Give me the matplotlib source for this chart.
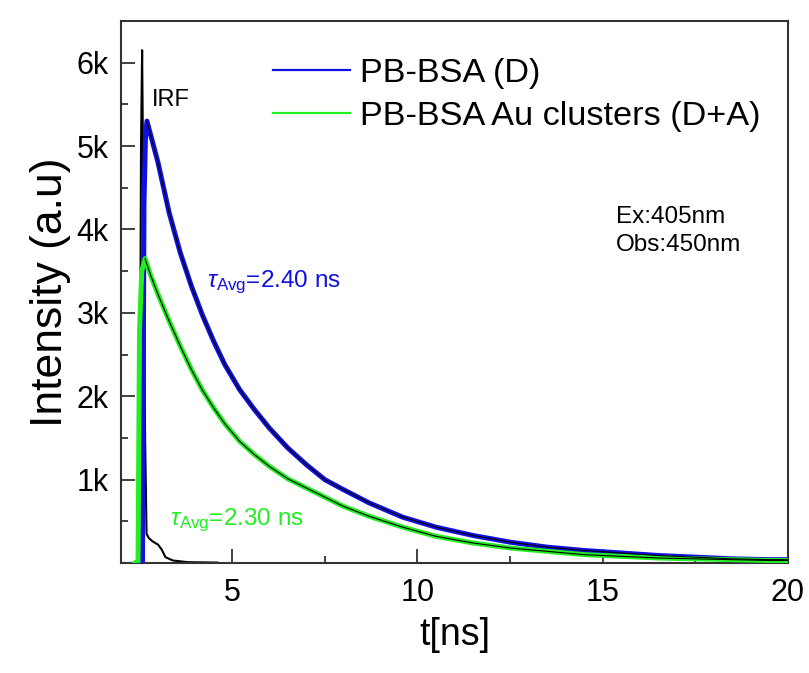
import matplotlib
matplotlib.use("Agg")
import matplotlib.pyplot as plt
from matplotlib.ticker import MultipleLocator, FuncFormatter

plt.rcParams['font.family'] = ['Liberation Sans', 'DejaVu Sans']
plt.rcParams['mathtext.fontset'] = 'custom'
plt.rcParams['mathtext.rm'] = 'Liberation Sans'
plt.rcParams['mathtext.it'] = 'Liberation Sans:italic'

# ---- data (time in ns, intensity in counts) ----
t_d = [2.40, 2.58, 2.62, 2.66, 2.70, 2.85, 3.0, 3.3, 3.6, 3.9, 4.2, 4.5, 4.8, 5.2,
       5.6, 6.0, 6.5, 7.0, 7.5, 8.0, 8.7, 9.6, 10.5, 11.5, 12.5, 13.5, 14.5, 15.5,
       16.5, 17.5, 18.5, 19.5, 20.0]
i_d = [0, 20, 4300, 5100, 5300, 5050, 4800, 4200, 3720, 3320, 2970, 2660, 2380, 2080,
       1840, 1620, 1380, 1180, 1000, 880, 720, 550, 430, 330, 250, 190, 150, 120,
       90, 70, 50, 40, 40]

t_da = [2.38, 2.46, 2.50, 2.56, 2.65, 2.8, 3.0, 3.3, 3.6, 3.9, 4.2, 4.5, 4.8, 5.2,
        5.6, 6.0, 6.5, 7.0, 7.5, 8.0, 8.7, 9.6, 10.5, 11.5, 12.5, 13.5, 14.5, 15.5,
        16.5, 17.5, 18.5, 19.5, 20.0]
i_da = [0, 20, 2800, 3500, 3650, 3450, 3220, 2900, 2600, 2320, 2070, 1860, 1670, 1460,
        1300, 1160, 1010, 900, 790, 680, 560, 430, 320, 240, 180, 140, 100, 80,
        60, 50, 40, 30, 30]

t_irf = [2.0, 2.48, 2.51, 2.54, 2.57, 2.61, 2.65, 2.69, 2.75, 2.85, 3.0, 3.1, 3.2,
         3.4, 3.8, 4.6]
i_irf = [0, 0, 1500, 5000, 6150, 4000, 1500, 350, 300, 260, 220, 160, 70,
         30, 10, 5]

fit_start_d = 4     # index of the peak of D
fit_start_da = 4    # index of the peak of D+A

labels = ['PB-BSA (D)', 'PB-BSA Au clusters (D+A)']
tau_labels = [r'$\tau_{\rm Avg}$=2.40 ns', r'$\tau_{\rm Avg}$=2.30 ns']

blue = '#1010e0'
green = '#22ee22'

fig = plt.figure(figsize=(8.09, 6.73), dpi=100)
ax = fig.add_axes([121/809, 1 - 563/673, (788-121)/809, (563-21)/673])

ax.plot(t_irf, i_irf, color='black', lw=1.5, zorder=2)
ld, = ax.plot(t_d, i_d, color=blue, lw=3.6, zorder=3)
lda, = ax.plot(t_da, i_da, color=green, lw=3.6, zorder=3)
ax.plot(t_d[fit_start_d:], i_d[fit_start_d:], color='black', lw=0.8, zorder=4)
ax.plot(t_da[fit_start_da:], i_da[fit_start_da:], color='black', lw=0.8, zorder=4)

ax.set_xlim(2, 20)
ax.set_ylim(0, 6500)
ax.xaxis.set_major_locator(MultipleLocator(5))
ax.xaxis.set_minor_locator(MultipleLocator(2.5))
ax.yaxis.set_major_locator(MultipleLocator(1000))
ax.yaxis.set_minor_locator(MultipleLocator(500))
ax.yaxis.set_major_formatter(FuncFormatter(lambda v, p: '' if v == 0 else f'{int(v/1000)}k'))
ax.tick_params(which='both', direction='in', top=False, right=False, width=1.3, color='#333333')
ax.tick_params(which='major', length=10, labelsize=22)
ax.tick_params(axis='x', which='major', pad=11)
ax.tick_params(axis='y', which='major', pad=9)
ax.tick_params(which='minor', length=5)
for s in ax.spines.values():
    s.set_linewidth(1.5)
    s.set_color('#333333')

ax.set_xlabel('t[ns]', fontsize=27, labelpad=6)
ax.set_ylabel('Intensity (a.u)', fontsize=32, labelpad=4)

leg = fig.legend([ld, lda], labels, loc='upper left', bbox_to_anchor=(273/809, 1 - 58/673),
                 frameon=False, fontsize=24.7, handlelength=2.25, handletextpad=0.3,
                 labelspacing=0.36, borderpad=0, borderaxespad=0)
for h in leg.get_lines():
    h.set_linewidth(1.6)

ax.text(2.84, 5550, 'IRF', fontsize=17, va='center', ha='left')
ax.text(4.32, 3310, tau_labels[0], fontsize=17.5, color=blue, ha='left', va='baseline')
ax.text(3.32, 457, tau_labels[1], fontsize=17.5, color=green, ha='left', va='baseline')
ax.text(15.35, 4150, 'Ex:405nm', fontsize=17.5, ha='left', va='center')
ax.text(15.35, 3810, 'Obs:450nm', fontsize=17.5, ha='left', va='center')

fig.savefig('out.png', dpi=100)
